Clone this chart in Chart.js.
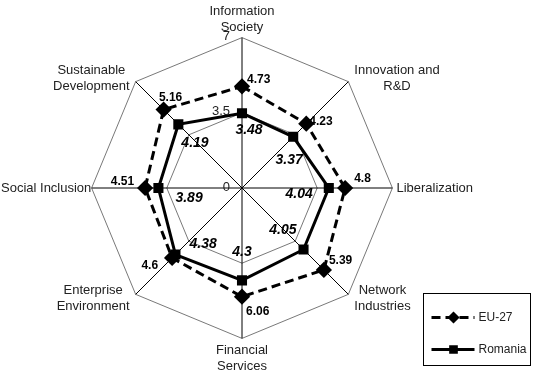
<!DOCTYPE html>
<html>
<head>
<meta charset="utf-8">
<script src="https://cdn.jsdelivr.net/npm/chart.js@4.4.1/dist/chart.umd.min.js"></script>
<style>
  html, body { margin: 0; padding: 0; background: #fff; }
  #wrap { width: 544px; height: 374px; }
</style>
</head>
<body>
<div id="wrap"><canvas id="radar"></canvas></div>
<script>
// axes du radar
const categories = [
  ['Information', 'Society'],
  ['Innovation and', 'R&D'],
  'Liberalization',
  ['Network', 'Industries'],
  ['Financial', 'Services'],
  ['Enterprise', 'Environment'],
  'Social Inclusion',
  ['Sustainable', 'Development']
];
// valeurs tracees (le point Financial Services est trace a ~5.06 dans l'original)
const eu27 = [4.73, 4.23, 4.8, 5.39, 5.06, 4.6, 4.51, 5.16];
const romania = [3.48, 3.37, 4.04, 4.05, 4.3, 4.38, 3.89, 4.19];
// etiquettes imprimees sur le graphique
const eu27Text = ['4.73', '4.23', '4.8', '5.39', '6.06', '4.6', '4.51', '5.16'];
const romaniaText = ['3.48', '3.37', '4.04', '4.05', '4.3', '4.38', '3.89', '4.19'];
const tickValues = [0, 3.5, 7];
const seriesNames = ['EU-27', 'Romania'];

// placement des etiquettes de valeurs [dx, dy, align]
const euLabelPos = [[5, -7, 'left'], [3, -2, 'left'], [9, -9, 'left'], [5, -9, 'left'],
  [4, 15, 'left'], [-14, 8, 'right'], [-11, -6, 'right'], [7, -12, 'center']];
const roLabelPos = [[7, 17, 'center'], [-4, 23, 'center'], [-16, 6, 'right'], [-7, -19, 'right'],
  [0, -28, 'center'], [14, -10, 'left'], [17, 10, 'left'], [3, 19, 'left']];

const FONT = '"Liberation Sans", Arial, sans-serif';

// libelles des axes, lignes centrees comme dans l'original
const axisLabels = {
  id: 'axisLabels',
  afterDraw(chart) {
    const ctx = chart.ctx;
    const scale = chart.scales.r;
    const lh = 16;
    ctx.save();
    ctx.font = '13px ' + FONT;
    ctx.fillStyle = '#222';
    ctx.textAlign = 'center';
    ctx.textBaseline = 'middle';
    categories.forEach((lab, i) => {
      const lines = Array.isArray(lab) ? lab : [lab];
      const p = scale.getPointPosition(i, scale.drawingArea);
      const dx = p.x - scale.xCenter, dy = p.y - scale.yCenter;
      const w = Math.max(...lines.map(l => ctx.measureText(l).width));
      const h = lines.length * lh;
      let cx, top;
      if (Math.abs(dx) < 1) {
        cx = p.x;
        top = dy < 0 ? p.y - 2 - h : p.y + 4;
      } else {
        const gap = Math.abs(dy) < 1 ? 4 : 6;
        cx = dx > 0 ? p.x + gap + w / 2 : p.x - gap - w / 2;
        cx = Math.max(cx, w / 2 + 1);
        const off = Math.abs(dy) < 1 ? 0 : (dy < 0 ? -3 : 4);
        top = p.y + off - h / 2;
      }
      lines.forEach((l, k) => ctx.fillText(l, cx, top + lh / 2 + k * lh));
    });
    ctx.restore();
  }
};

const valueLabels = {
  id: 'valueLabels',
  afterDatasetsDraw(chart) {
    const ctx = chart.ctx;
    const scale = chart.scales.r;
    ctx.save();
    ctx.textBaseline = 'middle';
    // ticks
    ctx.font = '13px ' + FONT;
    ctx.textAlign = 'right';
    ctx.fillStyle = '#222';
    tickValues.forEach(v => {
      const d = scale.getDistanceFromCenterForValue(v);
      ctx.fillText(String(v), scale.xCenter - 12, scale.yCenter - d - 1);
    });
    ctx.fillStyle = '#000';
    const sets = [[eu27, eu27Text, euLabelPos, 'bold 12px ' + FONT],
                  [romania, romaniaText, roLabelPos, 'italic bold 14px ' + FONT]];
    sets.forEach(([vals, txt, pos, font]) => {
      ctx.font = font;
      vals.forEach((v, i) => {
        const p = scale.getPointPositionForValue(i, v);
        ctx.textAlign = pos[i][2];
        ctx.fillText(txt[i], p.x + pos[i][0], p.y + pos[i][1]);
      });
    });
    ctx.restore();
  }
};

const boxLegend = {
  id: 'boxLegend',
  afterDraw(chart) {
    const ctx = chart.ctx;
    const x = 423.5, y = 293.5, w = 107, h = 72;
    ctx.save();
    ctx.strokeStyle = '#000';
    ctx.lineWidth = 1;
    ctx.strokeRect(x, y, w, h);
    chart.data.datasets.forEach((ds, i) => {
      const ly = y + 24 + i * 32;
      ctx.beginPath();
      ctx.setLineDash(ds.borderDash || []);
      ctx.lineWidth = ds.borderWidth;
      ctx.moveTo(x + 8, ly);
      ctx.lineTo(x + 51, ly);
      ctx.stroke();
      ctx.setLineDash([]);
      ctx.fillStyle = '#000';
      Chart.helpers.drawPoint(ctx, {pointStyle: ds.pointStyle, radius: 4, borderWidth: 1}, x + 30, ly);
      ctx.font = '12px ' + FONT;
      ctx.fillStyle = '#222';
      ctx.textBaseline = 'middle';
      ctx.textAlign = 'left';
      ctx.fillText(ds.label, x + 55, ly);
    });
    ctx.restore();
  }
};

new Chart(document.getElementById('radar'), {
  type: 'radar',
  data: {
    labels: categories,
    datasets: [{
      label: seriesNames[0],
      data: eu27,
      borderColor: '#000',
      backgroundColor: '#000',
      borderWidth: 3,
      borderDash: [9, 5],
      pointStyle: 'rectRot',
      pointRadius: 6,
      pointBackgroundColor: '#000',
      fill: false
    }, {
      label: seriesNames[1],
      data: romania,
      borderColor: '#000',
      backgroundColor: '#000',
      borderWidth: 3,
      pointStyle: 'rect',
      pointRadius: 5,
      pointBackgroundColor: '#000',
      fill: false
    }]
  },
  options: {
    responsive: true,
    maintainAspectRatio: false,
    animation: false,
    layout: { padding: { left: 0, right: 72, top: 4, bottom: 0 } },
    plugins: {
      legend: { display: false },
      tooltip: { enabled: false }
    },
    scales: {
      r: {
        min: 0,
        max: 7,
        ticks: { stepSize: 3.5, display: false },
        grid: { color: '#555', lineWidth: 0.8 },
        angleLines: { color: '#000', lineWidth: 1 },
        pointLabels: {
          // gardes pour le calcul du rayon, dessinees par axisLabels
          color: 'rgba(0,0,0,0)',
          padding: 1,
          font: { family: FONT, size: 12, lineHeight: 1.4 }
        }
      }
    }
  },
  plugins: [valueLabels, axisLabels, boxLegend]
});
</script>
</body>
</html>
